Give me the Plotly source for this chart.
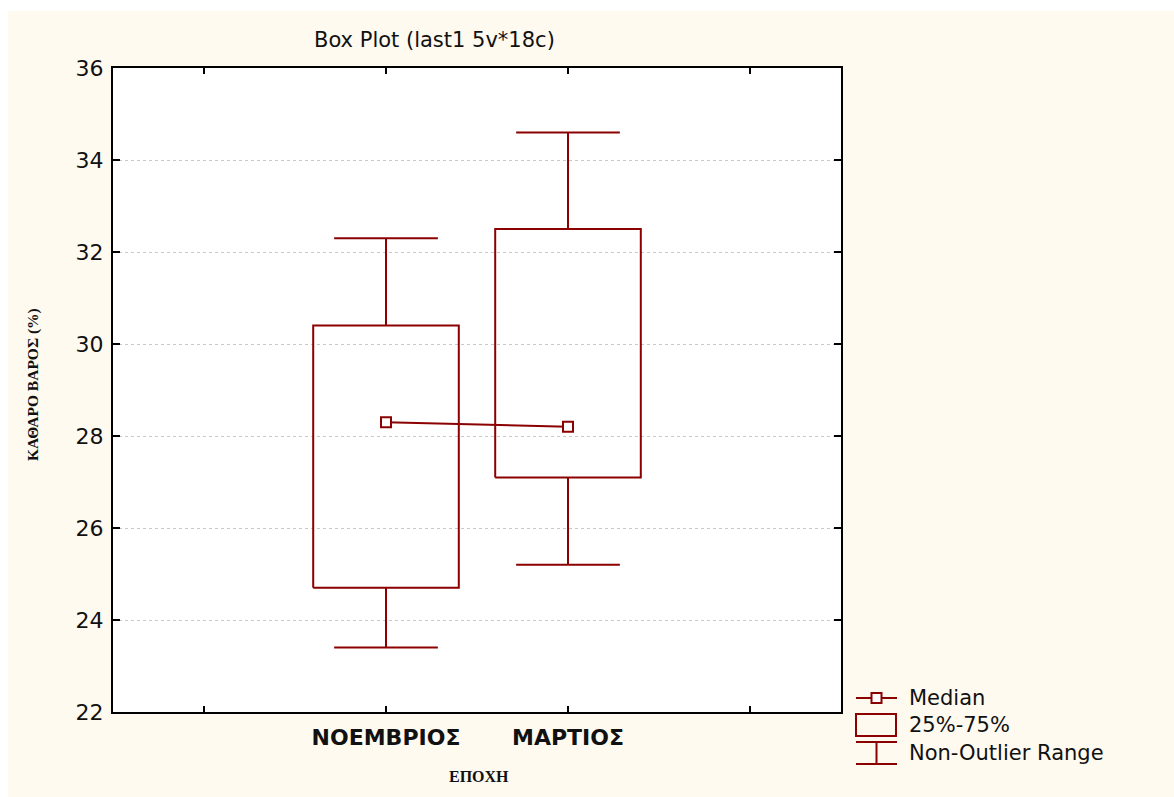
import plotly.graph_objects as go

# ---- data -------------------------------------------------------------
categories = ["ΝΟΕΜΒΡΙΟΣ", "ΜΑΡΤΙΟΣ"]
medians = [28.3, 28.2]
q1 = [24.7, 27.1]
q3 = [30.4, 32.5]
whisker_low = [23.4, 25.2]
whisker_high = [32.3, 34.6]
y_ticks = [22, 24, 26, 28, 30, 32, 34, 36]

legend_labels = ["Median", "25%-75%", "Non-Outlier Range"]

# ---- style ------------------------------------------------------------
RED = "#8B0000"
CREAM = "#FEFAF0"
W, H = 1174, 797
ML, MR, MT, MB = 113, 333, 68, 85
PW, PH = W - ML - MR, H - MT - MB

SANS = "DejaVu Sans"
SERIF = "Liberation Serif"

positions = [1, 2]        # category slots on a 0..3 axis
BOX_HALF = 0.4
CAP_HALF = 0.285


def px2x(px):
    return (px - ML) / PW


def px2y(py):
    return (H - MB - py) / PH


# boxes (25%-75%)
box_x, box_y = [], []
for p, lo, hi in zip(positions, q1, q3):
    box_x += [p - BOX_HALF, p + BOX_HALF, p + BOX_HALF, p - BOX_HALF, p - BOX_HALF, None]
    box_y += [lo, lo, hi, hi, lo, None]

# whiskers with caps (non-outlier range)
wh_x, wh_y = [], []
for p, a, b, lo, hi in zip(positions, q1, q3, whisker_low, whisker_high):
    wh_x += [p, p, None, p - CAP_HALF, p + CAP_HALF, None,
             p, p, None, p - CAP_HALF, p + CAP_HALF, None]
    wh_y += [b, hi, None, hi, hi, None,
             a, lo, None, lo, lo, None]

fig = go.Figure()
fig.add_trace(go.Scatter(x=box_x, y=box_y, mode="lines",
                         line=dict(color=RED, width=2),
                         hoverinfo="skip", showlegend=False))
fig.add_trace(go.Scatter(x=wh_x, y=wh_y, mode="lines",
                         line=dict(color=RED, width=2),
                         hoverinfo="skip", showlegend=False))
fig.add_trace(go.Scatter(x=positions, y=medians, mode="lines+markers",
                         line=dict(color=RED, width=2),
                         marker=dict(symbol="square", size=10, color="white",
                                     line=dict(color=RED, width=2)),
                         showlegend=False))

# ---- frame / background shapes ------------------------------------------
shapes = [
    dict(type="rect", xref="paper", yref="paper", layer="below",
         x0=px2x(0), x1=px2x(W), y0=px2y(0), y1=px2y(11),
         fillcolor="white", line=dict(width=0)),
    dict(type="rect", xref="paper", yref="paper", layer="below",
         x0=px2x(0), x1=px2x(8), y0=px2y(0), y1=px2y(H),
         fillcolor="white", line=dict(width=0)),
]

# ---- hand-drawn legend --------------------------------------------------
lx0, lx1 = 856, 897
lmid = (lx0 + lx1) / 2
row_y = [698, 725, 753]
# median symbol
shapes.append(dict(type="line", xref="paper", yref="paper",
                   x0=px2x(lx0), x1=px2x(lx1), y0=px2y(row_y[0]), y1=px2y(row_y[0]),
                   line=dict(color=RED, width=2)))
shapes.append(dict(type="rect", xref="paper", yref="paper",
                   x0=px2x(lmid - 5), x1=px2x(lmid + 5),
                   y0=px2y(row_y[0] + 5), y1=px2y(row_y[0] - 5),
                   fillcolor="white", line=dict(color=RED, width=2)))
# box symbol
shapes.append(dict(type="rect", xref="paper", yref="paper",
                   x0=px2x(lx0), x1=px2x(lx1 - 1), y0=px2y(736), y1=px2y(714),
                   fillcolor="rgba(0,0,0,0)", line=dict(color=RED, width=2)))
# range symbol
for yy in (742, 764):
    shapes.append(dict(type="line", xref="paper", yref="paper",
                       x0=px2x(lx0), x1=px2x(lx1), y0=px2y(yy), y1=px2y(yy),
                       line=dict(color=RED, width=2)))
shapes.append(dict(type="line", xref="paper", yref="paper",
                   x0=px2x(lmid), x1=px2x(lmid), y0=px2y(742), y1=px2y(764),
                   line=dict(color=RED, width=2)))

annotations = [
    dict(text="Box Plot (last1 5v*18c)", xref="paper", yref="paper",
         x=px2x(434), y=px2y(40), xanchor="center", yanchor="middle",
         showarrow=False, font=dict(family=SANS, size=21, color="#111111")),
    dict(text="ΚΑΘΑΡΟ ΒΑΡΟΣ (%)", xref="paper", yref="paper",
         x=px2x(33), y=px2y(385), xanchor="center", yanchor="middle",
         textangle=-90, showarrow=False,
         font=dict(family=SERIF, size=15.5, color="#111111", weight="bold")),
    dict(text="ΕΠΟΧΗ", xref="paper", yref="paper",
         x=px2x(479), y=px2y(776), xanchor="center", yanchor="middle",
         showarrow=False,
         font=dict(family=SERIF, size=16, color="#111111", weight="bold")),
]
for label, yy in zip(legend_labels, row_y):
    annotations.append(dict(text=label, xref="paper", yref="paper",
                            x=px2x(907), y=px2y(yy), xanchor="left", yanchor="middle",
                            showarrow=False,
                            font=dict(family=SANS, size=21, color="#111111")))

fig.update_layout(
    width=W, height=H,
    margin=dict(l=ML, r=MR, t=MT, b=MB),
    paper_bgcolor=CREAM, plot_bgcolor="white",
    showlegend=False,
    shapes=shapes, annotations=annotations,
    xaxis=dict(range=[-0.5, 3.5], tickmode="array",
               tickvals=[0, 1, 2, 3], ticktext=[""] + categories + [""],
               ticks="inside", ticklen=6, tickwidth=2, tickcolor="black",
               showline=True, linecolor="black", linewidth=2, mirror="ticks",
               showgrid=False, zeroline=False, ticklabelstandoff=5,
               tickfont=dict(family=SANS, size=22, color="#111111", weight="bold")),
    yaxis=dict(range=[22, 36], tickmode="array", tickvals=y_ticks,
               ticks="inside", ticklen=7, tickwidth=2, tickcolor="black",
               showline=True, linecolor="black", linewidth=2, mirror="ticks",
               showgrid=True, gridcolor="#c8c8c8", griddash="dot", gridwidth=1,
               zeroline=False, ticklabelstandoff=3,
               tickfont=dict(family=SANS, size=22, color="#111111")),
)

fig.write_html("out.html")
